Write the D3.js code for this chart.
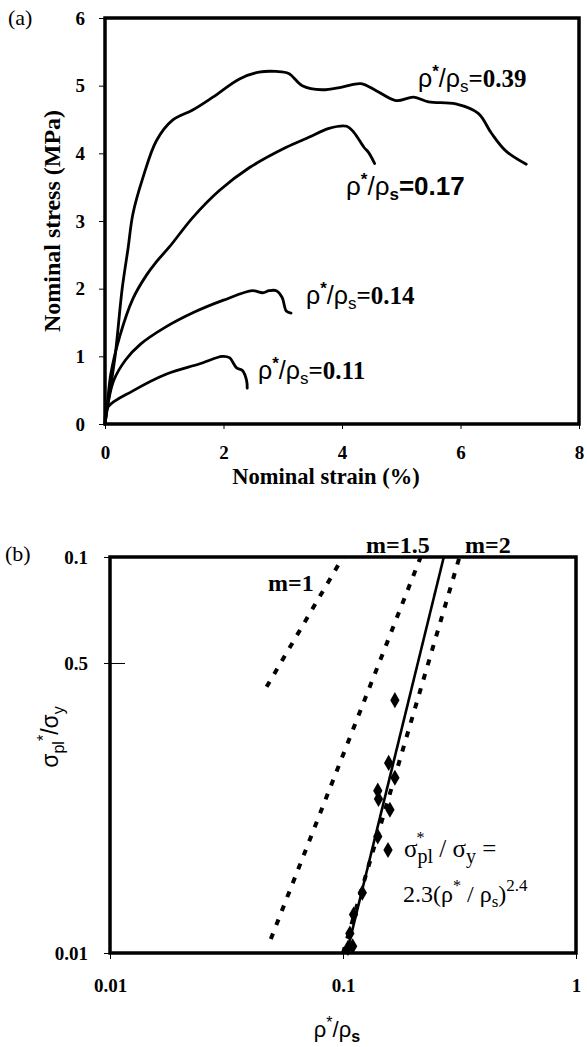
<!DOCTYPE html>
<html>
<head>
<meta charset="utf-8">
<script src="https://cdn.jsdelivr.net/npm/d3@7/dist/d3.min.js"></script>
<style>
	body { margin: 0; background: #fff; }
	svg { display: block; }
	.tick text { font-family: "Liberation Serif", serif; font-weight: bold; font-size: 19px; fill: #000; }
</style>
</head>
<body>
<svg width="587" height="1047"></svg>
<script>
// ---- panel (a): stress-strain curves, [strain %, stress MPa]
var curve039 = [[0, 0], [0.05, 0.3], [0.17, 1.0], [0.29, 2.0], [0.39, 2.6], [0.47, 3.1], [0.64, 3.64],
	[0.87, 4.19], [1.14, 4.49], [1.48, 4.64], [1.82, 4.83], [2.27, 5.1], [2.6, 5.2], [2.89, 5.21],
	[3.1, 5.18], [3.33, 5.0], [3.66, 4.94], [4.0, 4.98], [4.32, 5.03], [4.57, 4.93], [4.91, 4.78],
	[5.21, 4.83], [5.46, 4.76], [5.92, 4.73], [6.3, 4.59], [6.52, 4.3], [6.76, 4.04], [7.11, 3.84]];
var curve017 = [[0, 0], [0.04, 0.3], [0.1, 0.75], [0.25, 1.3], [0.47, 1.85], [0.7, 2.2], [0.87, 2.4],
	[1.09, 2.62], [1.48, 3.05], [1.93, 3.45], [2.44, 3.79], [3.06, 4.09], [3.45, 4.24], [3.78, 4.37],
	[4.08, 4.4], [4.2, 4.31], [4.37, 4.09], [4.45, 4.01], [4.55, 3.85]];
var curve014 = [[0, 0], [0.05, 0.3], [0.15, 0.65], [0.35, 0.95], [0.6, 1.18], [1.0, 1.42], [1.5, 1.65],
	[2.0, 1.83], [2.49, 1.97], [2.66, 1.94], [2.77, 1.97], [2.89, 1.97], [2.99, 1.87], [3.06, 1.67],
	[3.14, 1.64]];
var curve011 = [[0, 0], [0.05, 0.25], [0.47, 0.49], [1.04, 0.74], [1.6, 0.89], [1.98, 1.0], [2.1, 0.98],
	[2.22, 0.83], [2.32, 0.79], [2.39, 0.64], [2.4, 0.53]];
var densityLabels = ["0.39", "0.17", "0.14", "0.11"];
var strainTicks = [0, 2, 4, 6, 8];
var stressTicks = [0, 1, 2, 3, 4, 5, 6];

// ---- panel (b): log-log plateau stress vs relative density
var relDensity = [0.167, 0.157, 0.167, 0.141, 0.142, 0.159, 0.141, 0.121, 0.111, 0.107, 0.110, 0.105];
var relStress = [0.0435, 0.0302, 0.0277, 0.0257, 0.0245, 0.0230, 0.0197, 0.0142, 0.0125, 0.0112, 0.0104, 0.0103];
var fitCoef = 2.3, fitExp = 2.4;
var guideExps = [1, 1.5, 2];
var guideRanges = [[0.047, 0.1], [0.049, 0.215], [0.1, 0.316]];
var densTicks = [0.01, 0.1, 1];
var stressLogTicks = [0.01, 0.054, 0.1];
var stressLogLabels = ["0.01", "0.5", "0.1"];

var svg = d3.select("svg");
var serif = "Liberation Serif", sans = "Liberation Sans";

// =================== (a) ===================
var xA = d3.scaleLinear().domain([0, 8]).range([105, 579]);
var yA = d3.scaleLinear().domain([0, 6]).range([424, 18]);

svg.append("text").attr("x", 8).attr("y", 25).attr("font-family", serif)
	.attr("font-size", 22).text("(a)");

var gA = svg.append("g");

gA.append("g")
	.attr("transform", "translate(0," + yA(0) + ")")
	.call(d3.axisBottom(xA).tickValues(strainTicks).tickSize(5).tickPadding(17).tickFormat(d3.format("d")))
	.call(g => g.select(".domain").remove());

gA.append("g")
	.attr("transform", "translate(" + xA(0) + ",0)")
	.call(d3.axisLeft(yA).tickValues(stressTicks).tickSize(6).tickPadding(14).tickFormat(d3.format("d")))
	.call(g => g.select(".domain").remove());

gA.append("rect")
	.attr("x", xA(0)).attr("y", yA(6))
	.attr("width", xA(8) - xA(0)).attr("height", yA(0) - yA(6))
	.attr("fill", "none").attr("stroke", "#000").attr("stroke-width", 3.5);

var lineA = d3.line().x(d => xA(d[0])).y(d => yA(d[1])).curve(d3.curveCatmullRom);

[curve039, curve017, curve014, curve011].forEach(function(c) {
	gA.append("path").datum(c)
		.attr("d", lineA)
		.attr("fill", "none").attr("stroke", "#000").attr("stroke-width", 2.8)
		.attr("stroke-linejoin", "round").attr("stroke-linecap", "round");
});

// axis titles
svg.append("text")
	.attr("transform", "translate(60," + yA(3) + ") rotate(-90)")
	.attr("text-anchor", "middle").attr("font-family", serif).attr("font-weight", "bold")
	.attr("font-size", 24).text("Nominal stress (MPa)");

svg.append("text")
	.attr("x", 326).attr("y", 484)
	.attr("text-anchor", "middle").attr("font-family", serif).attr("font-weight", "bold")
	.attr("font-size", 22.5).text("Nominal strain (%)");

// density labels
function densLabel(x, y, val, allSans) {
	var fs = allSans ? 26 : 25;
	var t = svg.append("text").attr("x", x).attr("y", y).attr("font-size", fs);
	t.append("tspan").attr("font-family", sans).text("ρ");
	t.append("tspan").attr("font-family", sans).attr("font-weight", "bold")
		.attr("font-size", 17).attr("dy", -10).text("*");
	t.append("tspan").attr("font-family", sans).attr("dy", 10).text("/ρ");
	t.append("tspan").attr("font-family", sans).attr("font-weight", allSans ? "bold" : "normal")
		.attr("font-size", 17).attr("dy", 5).text("s");
	t.append("tspan").attr("dy", -5)
		.attr("font-family", allSans ? sans : serif).attr("font-weight", "bold")
		.text("=" + val);
}
densLabel(418, 87, densityLabels[0], false);
densLabel(346, 195, densityLabels[1], true);
densLabel(306, 304, densityLabels[2], false);
densLabel(258, 379, densityLabels[3], false);

// =================== (b) ===================
var xB = d3.scaleLog().domain([0.01, 1]).range([110, 576]);
var yB = d3.scaleLog().domain([0.01, 0.1]).range([953, 557]);

svg.append("text").attr("x", 5).attr("y", 561).attr("font-family", serif)
	.attr("font-size", 22).text("(b)");

var gB = svg.append("g");

gB.append("g")
	.attr("transform", "translate(0," + yB(0.01) + ")")
	.call(d3.axisBottom(xB).tickValues(densTicks).tickSize(6).tickPadding(20)
		.tickFormat(d => d === 1 ? "1" : String(d)))
	.call(g => g.select(".domain").remove());

gB.append("g")
	.attr("transform", "translate(" + xB(0.01) + ",0)")
	.call(d3.axisLeft(yB).tickValues(stressLogTicks).tickSize(6).tickPadding(16)
		.tickFormat((d, i) => stressLogLabels[i]))
	.call(g => g.select(".domain").remove())
	.call(g => g.selectAll(".tick line").attr("x1", 15));

gB.append("rect")
	.attr("x", xB(0.01)).attr("y", yB(0.1))
	.attr("width", xB(1) - xB(0.01)).attr("height", yB(0.01) - yB(0.1))
	.attr("fill", "none").attr("stroke", "#000").attr("stroke-width", 3.5);

var lineB = d3.line().x(d => xB(d[0])).y(d => yB(d[1]));

// guide lines sigma = rho^m
guideExps.forEach(function(m, i) {
	var r = guideRanges[i];
	gB.append("path")
		.datum([[r[0], Math.pow(r[0], m)], [r[1], Math.pow(r[1], m)]])
		.attr("d", lineB)
		.attr("fill", "none").attr("stroke", "#000").attr("stroke-width", 4)
		.attr("stroke-dasharray", "6,9");
});

// power-law fit
var fitLo = Math.pow(0.01 / fitCoef, 1 / fitExp), fitHi = Math.pow(0.1 / fitCoef, 1 / fitExp);
gB.append("path")
	.datum([[fitLo, 0.01], [fitHi, 0.1]])
	.attr("d", lineB)
	.attr("fill", "none").attr("stroke", "#000").attr("stroke-width", 2.6);

var diamond = d3.symbol().type(d3.symbolDiamond).size(75);
gB.selectAll(".pt")
	.data(relDensity.map((d, i) => [d, relStress[i]]))
	.enter().append("path")
	.attr("class", "pt")
	.attr("d", diamond)
	.attr("transform", d => "translate(" + xB(d[0]) + "," + yB(d[1]) + ")");

// m labels
[["m=1", 268, 591], ["m=1.5", 366, 553], ["m=2", 465, 553]].forEach(function(l) {
	svg.append("text").attr("x", l[1]).attr("y", l[2])
		.attr("font-family", serif).attr("font-weight", "bold").attr("font-size", 24).text(l[0]);
});

// legend
svg.append("path").attr("d", diamond).attr("transform", "translate(388,850)");
var lg1 = svg.append("text").attr("x", 404).attr("y", 857)
	.attr("font-family", serif).attr("font-size", 25);
lg1.append("tspan").text("σ");
lg1.append("tspan").attr("font-size", 16).attr("dy", -14).attr("dx", -1).text("*");
lg1.append("tspan").attr("font-size", 20).attr("dy", 20).attr("dx", -7).text("pl");
lg1.append("tspan").attr("dy", -6).text(" / σ");
lg1.append("tspan").attr("font-size", 20).attr("dy", 6).text("y");
lg1.append("tspan").attr("dy", -6).text(" =");

var lg2 = svg.append("text").attr("x", 403).attr("y", 902)
	.attr("font-family", serif).attr("font-size", 24);
lg2.append("tspan").text("2.3(ρ");
lg2.append("tspan").attr("font-size", 16).attr("dy", -11).text("*");
lg2.append("tspan").attr("dy", 11).text(" / ρ");
lg2.append("tspan").attr("font-size", 17).attr("dy", 5).text("s");
lg2.append("tspan").attr("dy", -5).text(")");
lg2.append("tspan").attr("font-size", 17).attr("dy", -11).text("2.4");

// axis titles
var yt = svg.append("text")
	.attr("transform", "translate(58,737) rotate(-90)")
	.attr("text-anchor", "middle").attr("font-family", sans).attr("font-size", 23);
yt.append("tspan").text("σ");
yt.append("tspan").attr("font-size", 16).attr("dy", 6).text("pl");
yt.append("tspan").attr("font-size", 16).attr("dy", -15).text("*");
yt.append("tspan").attr("dy", 9).text("/σ");
yt.append("tspan").attr("font-size", 16).attr("dy", 6).text("y");

var xt = svg.append("text")
	.attr("x", 337).attr("y", 1037)
	.attr("text-anchor", "middle").attr("font-family", sans).attr("font-size", 22);
xt.append("tspan").text("ρ");
xt.append("tspan").attr("font-size", 16).attr("dy", -9).text("*");
xt.append("tspan").attr("dy", 9).text("/ρ");
xt.append("tspan").attr("font-size", 16).attr("font-weight", "bold").attr("dy", 5).text("s");
</script>
</body>
</html>
